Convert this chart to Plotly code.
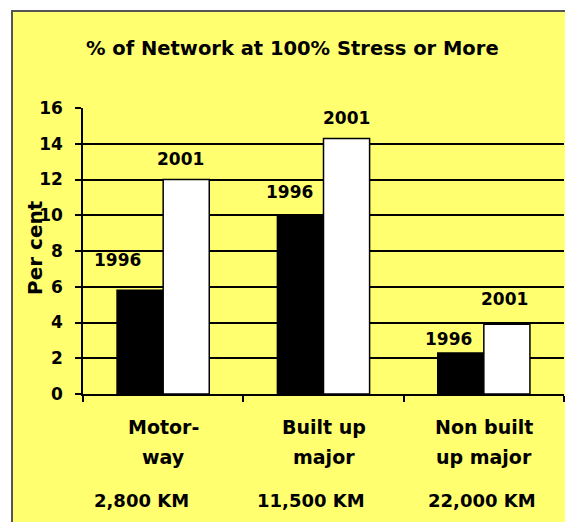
import plotly.graph_objects as go

# ---- data ----
categories = ["Motorway", "Built up major", "Non built up major"]
cat_line1 = ["Motor-", "Built up", "Non built"]
cat_line2 = ["way", "major", "up major"]
network_km = ["2,800 KM", "11,500 KM", "22,000 KM"]
series_names = ["1996", "2001"]
values_1996 = [5.8, 10.0, 2.3]
values_2001 = [12.0, 14.3, 3.9]
y_ticks = [0, 2, 4, 6, 8, 10, 12, 14, 16]
title_text = "% of Network at 100% Stress or More"
y_title = "Per cent"

# ---- style / layout ----
OFF = 8  # page body margin
W, H = 573 - OFF, 522 - OFF
L, R, T, B = 83 - OFF, 564 - OFF, 108 - OFF, 394 - OFF  # plot area in px
FONT = "DejaVu Sans"
YELLOW = "#FFFF70"

def px_x(px):
    return (px - OFF - L) / (R - L)

def px_y(py):
    return (B - (py - OFF)) / (B - T)

# label offsets (px): dx from bar centre, dy above bar top
lab_dx = {"1996": [-23, -11, -12], "2001": [-6, 0, -2]}
lab_dy = {"1996": [30, 23, 14], "2001": [21, 20, 25]}
km_dx = [-22, -13, -2]
bar_half = 23

def bold(size):
    return dict(family=FONT, size=size, color="black", weight="bold")

fig = go.Figure()
fig.add_trace(go.Bar(x=categories, y=values_1996, name=series_names[0],
                     marker=dict(color="black", line=dict(color="black", width=1.5))))
fig.add_trace(go.Bar(x=categories, y=values_2001, name=series_names[1],
                     marker=dict(color="white", line=dict(color="black", width=1.5))))

ann = []
for s_i, (name, vals) in enumerate(zip(series_names, [values_1996, values_2001])):
    sign = -1 if s_i == 0 else 1
    for i, (c, v) in enumerate(zip(categories, vals)):
        ann.append(dict(x=c, y=v, xref="x", yref="y", text=name, showarrow=False,
                        xshift=sign * bar_half + lab_dx[name][i], yshift=lab_dy[name][i],
                        xanchor="center", yanchor="middle", font=bold(17)))

for i, c in enumerate(categories):
    ann.append(dict(x=c, y=px_y(427), xref="x", yref="paper", text=cat_line1[i], showarrow=False,
                    xanchor="center", yanchor="middle", font=bold(19)))
    ann.append(dict(x=c, y=px_y(457), xref="x", yref="paper", text=cat_line2[i], showarrow=False,
                    xanchor="center", yanchor="middle", font=bold(19)))
    ann.append(dict(x=c, y=px_y(500), xref="x", yref="paper", text=network_km[i], showarrow=False,
                    xshift=km_dx[i], xanchor="center", yanchor="middle", font=bold(18)))

ann.append(dict(x=px_x(292), y=px_y(48), xref="paper", yref="paper", text=title_text,
                showarrow=False, xanchor="center", yanchor="middle", font=bold(19.5)))
ann.append(dict(x=px_x(35), y=px_y(248), xref="paper", yref="paper", text=y_title,
                showarrow=False, textangle=-90, xanchor="center", yanchor="middle", font=bold(20)))

fig.update_layout(
    width=W, height=H,
    margin=dict(l=L, r=W - R, t=T, b=H - B, pad=0),
    paper_bgcolor="white",
    plot_bgcolor="rgba(0,0,0,0)",
    showlegend=False,
    barmode="group", bargap=0.425, bargroupgap=0,
    annotations=ann,
    shapes=[dict(type="rect", xref="paper", yref="paper",
                 x0=px_x(12), x1=px_x(571), y0=px_y(540), y1=px_y(11),
                 fillcolor=YELLOW, line=dict(color="#555555", width=2), layer="below")],
    xaxis=dict(showticklabels=False, tickson="boundaries", ticks="outside", ticklen=6,
               tickcolor="black", tickwidth=1.5, showline=True, linecolor="black", linewidth=1.5,
               showgrid=False, zeroline=False, range=[-0.5, 2.5]),
    yaxis=dict(range=[0, 16], tickvals=y_ticks, ticks="outside", ticklen=6, tickcolor="black",
               tickwidth=1.5, showline=True, linecolor="black", linewidth=1.5,
               showgrid=True, gridcolor="black", gridwidth=1.5, zeroline=False,
               ticklabelstandoff=9, tickfont=bold(17)),
)

fig.write_html("out.html")
